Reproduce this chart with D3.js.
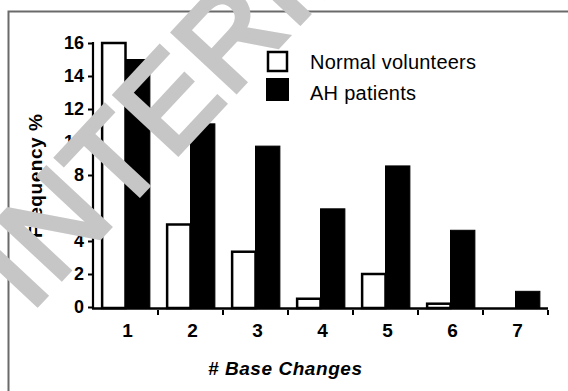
<!DOCTYPE html>
<html><head><meta charset="utf-8">
<script src="https://cdn.jsdelivr.net/npm/d3@7"></script>
<style>
html,body{margin:0;padding:0;background:#fff;}
svg{display:block;}
</style></head>
<body>
<svg id="chart" width="568" height="391"></svg>
<script>
const categories = ["1","2","3","4","5","6","7"];
const normalVolunteers = [16.0, 5.0, 3.35, 0.5, 2.0, 0.2, 0.0];
const ahPatients = [15.0, 11.1, 9.75, 5.95, 8.55, 4.65, 0.95];
const seriesNames = ["Normal volunteers", "AH patients"];
const yTicks = [0,2,4,6,8,10,12,14,16];
const xTitle = "# Base Changes";
const yTitle = "Frequency %";
const watermark = "INTERIM";

const svg = d3.select("#chart");
const font = "'Liberation Sans', Arial, sans-serif";

// frame
svg.append("path").attr("d","M8.5,391 L8.5,11.5 L568,11.5")
  .attr("fill","none").attr("stroke","#6a6a6a").attr("stroke-width",2);

const x = d3.scaleBand().domain(categories).range([93,548]).paddingInner(0.25).paddingOuter(0.125);
const xi = d3.scaleBand().domain(seriesNames).range([0,x.bandwidth()]);
const y = d3.scaleLinear().domain([0,16]).range([307,43]);

const data = categories.map((c,i)=>({cat:c, vals:[normalVolunteers[i], ahPatients[i]]}));

const g = svg.append("g");
const groups = g.selectAll("g.grp").data(data).join("g").attr("class","grp")
  .attr("transform", d=>`translate(${x(d.cat)},0)`);
groups.selectAll("rect").data(d=>d.vals.map((v,j)=>({v, s:seriesNames[j], j})))
  .join("rect")
  .filter(d=>d.v>0)
  .attr("x", d=>xi(d.s) + (d.j===0?1:0))
  .attr("width", d=>xi.bandwidth() - (d.j===0?1:0))
  .attr("y", d=>y(d.v))
  .attr("height", d=>y(0)-y(d.v)+1)
  .attr("fill", d=>d.j===0?"#fff":"#000")
  .attr("stroke","#000").attr("stroke-width", d=>d.j===0?2.5:1);

// y axis
const yAxis = d3.axisLeft(y).tickValues(yTicks).tickSize(5).tickSizeOuter(0).tickPadding(4);
const ya = svg.append("g").attr("transform","translate(93,0)").call(yAxis);
ya.select(".domain").remove();
ya.append("line").attr("x1",0).attr("x2",0).attr("y1",y(16)-1).attr("y2",309).attr("stroke","#000").attr("stroke-width",2.2);
ya.selectAll(".tick line").attr("stroke","#000").attr("stroke-width",2);
ya.selectAll(".tick text").attr("font-family",font).attr("font-weight","bold").attr("font-size",18).attr("fill","#000");

// x axis
svg.append("line").attr("x1",92).attr("x2",548).attr("y1",308.5).attr("y2",308.5).attr("stroke","#000").attr("stroke-width",2.5);
const step = x.step();
svg.append("g").selectAll("line").data(categories).join("line")
  .attr("x1", d=>x(d)+x.bandwidth()+ (step-x.bandwidth())/2)
  .attr("x2", d=>x(d)+x.bandwidth()+ (step-x.bandwidth())/2)
  .attr("y1",310).attr("y2",315).attr("stroke","#000").attr("stroke-width",2);
svg.append("g").selectAll("text").data(categories).join("text")
  .attr("x", d=>x(d)+x.bandwidth()/2+2)
  .attr("y", 337)
  .attr("text-anchor","middle")
  .attr("font-family",font).attr("font-weight","bold").attr("font-size",19)
  .text(d=>d);

svg.append("text").attr("x",285).attr("y",375).attr("text-anchor","middle")
  .attr("font-family",font).attr("font-weight","bold").attr("font-style","italic").attr("font-size",19)
  .attr("textLength",154).text(xTitle);
svg.append("text").attr("transform","translate(42,176) rotate(-90)").attr("text-anchor","middle")
  .attr("font-family",font).attr("font-weight","bold").attr("font-size",19)
  .attr("textLength",124).text(yTitle);

// legend
const leg = svg.append("g");
leg.append("rect").attr("x",268).attr("y",52).attr("width",19).attr("height",19)
  .attr("fill","#fff").attr("stroke","#000").attr("stroke-width",2.5);
leg.append("rect").attr("x",266).attr("y",78).attr("width",23).attr("height",23).attr("fill","#000");
leg.append("text").attr("x",310).attr("y",69).attr("font-family",font).attr("font-size",20).attr("textLength",166).text(seriesNames[0]);
leg.append("text").attr("x",310).attr("y",100).attr("font-family",font).attr("font-size",20).attr("textLength",106).text(seriesNames[1]);

// watermark
svg.append("text").attr("transform","translate(178,90) rotate(-47)").attr("text-anchor","middle")
  .attr("dominant-baseline","central")
  .attr("font-family",font).attr("font-weight","normal").attr("font-size",125).attr("fill","#c6c6c6")
  .attr("stroke","#c6c6c6").attr("stroke-width",5).attr("stroke-linejoin","miter")
  .attr("letter-spacing",2)
  .text(watermark);
</script>
</body></html>
